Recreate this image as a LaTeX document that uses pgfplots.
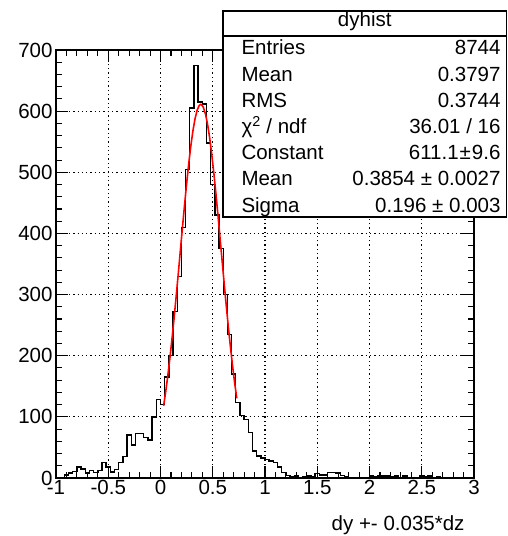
\documentclass[border=0pt]{standalone}
\usepackage{pgfplots}
\pgfplotsset{compat=1.18}
\usepackage{fontspec}
\setmainfont{Liberation Sans}
\newcommand{\rf}{\fontsize{20.5bp}{24bp}\selectfont}
\begin{document}
\begin{tikzpicture}[x=1bp,y=1bp]
\useasboundingbox (0,0) rectangle (508,536);
\begin{axis}[
  at={(56bp,58bp)}, anchor=south west,
  scale only axis, width=418bp, height=428bp,
  xmin=-1, xmax=3, ymin=0, ymax=700,
  xtick={-1,-0.5,0,0.5,1,1.5,2,2.5,3},
  xticklabels={-1,-0.5,0,0.5,1,1.5,2,2.5,3},
  ytick={0,100,200,300,400,500,600,700},
  yticklabels={0,100,200,300,400,500,600,700},
  minor x tick num=4, minor y tick num=4,
  tick align=inside,
  major tick length=12bp, minor tick length=6bp,
  tick style={black, line width=1.1bp},
  axis line style={line width=1.4bp},
  grid=major,
  major grid style={black, line width=1.1bp, dash pattern=on 1.3bp off 3bp},
  ticklabel style={font=\rf},
  xticklabel style={yshift=1bp},
  xlabel={dy +- 0.035*dz},
  xlabel style={font=\rf, at={(axis description cs:0.9856,-0.1215)}, anchor=base east},
]
\addplot[const plot, black, line width=1.4bp] coordinates {
(-1.00,0) (-0.96,0) (-0.92,5) (-0.88,8) (-0.84,11) (-0.80,18) (-0.76,15) (-0.72,8)
(-0.68,12) (-0.64,9) (-0.60,12) (-0.56,25) (-0.52,18) (-0.48,10) (-0.44,14) (-0.40,25)
(-0.36,35) (-0.32,70) (-0.28,54) (-0.24,73) (-0.20,73) (-0.16,66) (-0.12,62) (-0.08,100)
(-0.04,128) (0.00,120) (0.04,165) (0.08,200) (0.12,272) (0.16,330) (0.20,410) (0.24,505)
(0.28,605) (0.32,675) (0.36,615) (0.40,612) (0.44,548) (0.48,480) (0.52,430) (0.56,375)
(0.60,300) (0.64,235) (0.68,170) (0.72,123) (0.76,102) (0.80,96) (0.84,74) (0.88,44)
(0.92,36) (0.96,33) (1.00,30) (1.04,28) (1.08,25) (1.12,18) (1.16,9) (1.20,4)
(1.24,2) (1.28,3) (1.32,1) (1.36,2) (1.40,3) (1.44,2) (1.48,7) (1.52,5)
(1.56,5) (1.60,9) (1.64,9) (1.68,8) (1.72,4) (1.76,2) (1.80,1) (1.84,0)
(1.88,1) (1.92,1) (1.96,0) (2.00,3) (2.04,2) (2.08,4) (2.12,3) (2.16,3)
(2.20,2) (2.24,3) (2.28,1) (2.32,3) (2.36,1) (2.40,1) (2.44,1) (2.48,3)
(2.52,2) (2.56,3) (2.60,1) (2.64,2) (2.68,0) (2.72,1) (2.76,0) (2.80,0)
(2.84,0) (2.88,0) (2.92,0) (2.96,0) (3.00,0)
};
\addplot[red, line width=1.6bp] coordinates {
(0.03,118.1) (0.05,141.4) (0.07,167.4) (0.09,196.3) (0.11,227.7) (0.13,261.4)
(0.15,297.1) (0.17,334.1) (0.19,371.9) (0.21,409.5) (0.23,446.3) (0.25,481.4)
(0.27,513.9) (0.29,542.8) (0.31,567.5) (0.33,587.2) (0.35,601.2) (0.37,609.2)
(0.385,611.1) (0.39,610.9) (0.41,606.3) (0.43,595.5) (0.45,578.8) (0.47,556.8)
(0.49,530.0) (0.51,499.3) (0.53,465.5) (0.55,429.5) (0.57,392.2) (0.59,354.4)
(0.61,316.9) (0.63,280.5) (0.65,245.7) (0.67,213.0) (0.69,182.7) (0.71,155.0)
(0.73,130.3)
};
\end{axis}
\draw[line width=1.3bp, fill=white] (223,319) rectangle (506.5,525);
\draw[line width=1.3bp] (223,500) -- (506.5,500);
\node[font=\rf, anchor=base] at (364.75,509.3) {dyhist};
\node[font=\rf, anchor=base west] at (238,481) {Entries};
\node[font=\rf, anchor=base east] at (504,481) {8744};
\node[font=\rf, anchor=base west] at (238,454.8) {Mean};
\node[font=\rf, anchor=base east] at (504,454.8) {0.3797};
\node[font=\rf, anchor=base west] at (238,428.6) {RMS};
\node[font=\rf, anchor=base east] at (504,428.6) {0.3744};
\node[font=\rf, anchor=base west] at (238,402.4) {χ\textsuperscript{2} / ndf};
\node[font=\rf, anchor=base east] at (504,402.4) {36.01 / 16};
\node[font=\rf, anchor=base west] at (238,376.2) {Constant};
\node[font=\rf, anchor=base east] at (504,376.2) {611.1\kern1bp±\kern1bp9.6};
\node[font=\rf, anchor=base west] at (238,350) {Mean};
\node[font=\rf, anchor=base east] at (504,350) {0.3854 ± 0.0027};
\node[font=\rf, anchor=base west] at (238,323.8) {Sigma};
\node[font=\rf, anchor=base east] at (504,323.8) {0.196 ± 0.003};
\end{tikzpicture}
\end{document}
